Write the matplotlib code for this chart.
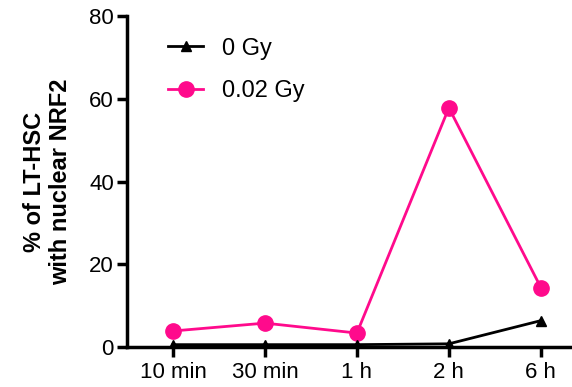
import numpy as np
import matplotlib.pyplot as plt

plt.rcParams['font.family'] = ['Liberation Sans', 'DejaVu Sans']

# Data
time_points = ['10 min', '30 min', '1 h', '2 h', '6 h']
gy_0 = [0.6, 0.6, 0.6, 0.8, 6.4]
gy_002 = [3.9, 5.8, 3.4, 57.8, 14.4]

x = np.arange(len(time_points))

fig = plt.figure(figsize=(5.72, 3.87), dpi=100)
ax = fig.add_axes([0.222, 0.103, 0.775, 0.856])

ax.plot(x, gy_0, '-^', color='black', lw=2, markersize=7.5, label='0 Gy', zorder=3)
ax.plot(x, gy_002, '-o', color='#ff0a8c', lw=2, markersize=11, label='0.02 Gy', zorder=2)

ax.set_xlim(-0.5, 4.32)
ax.set_ylim(0, 80)
ax.set_yticks([0, 20, 40, 60, 80])
ax.set_xticks(x)
ax.set_xticklabels(time_points)

for s in ['top', 'right']:
    ax.spines[s].set_visible(False)
for s in ['left', 'bottom']:
    ax.spines[s].set_linewidth(2.5)
ax.tick_params(width=2.5, length=7.5, labelsize=16, pad=2)
ax.tick_params(axis='x', pad=3)

ax.set_ylabel('% of LT-HSC\nwith nuclear NRF2', fontsize=17, fontweight='bold', labelpad=12,
              linespacing=1.2)

ax.legend(loc='upper left', bbox_to_anchor=(0.0926, 0.934), frameon=False, fontsize=17,
          handlelength=1.5, labelspacing=0.86, borderpad=0, borderaxespad=0)

fig.savefig('out.png', dpi=100)
